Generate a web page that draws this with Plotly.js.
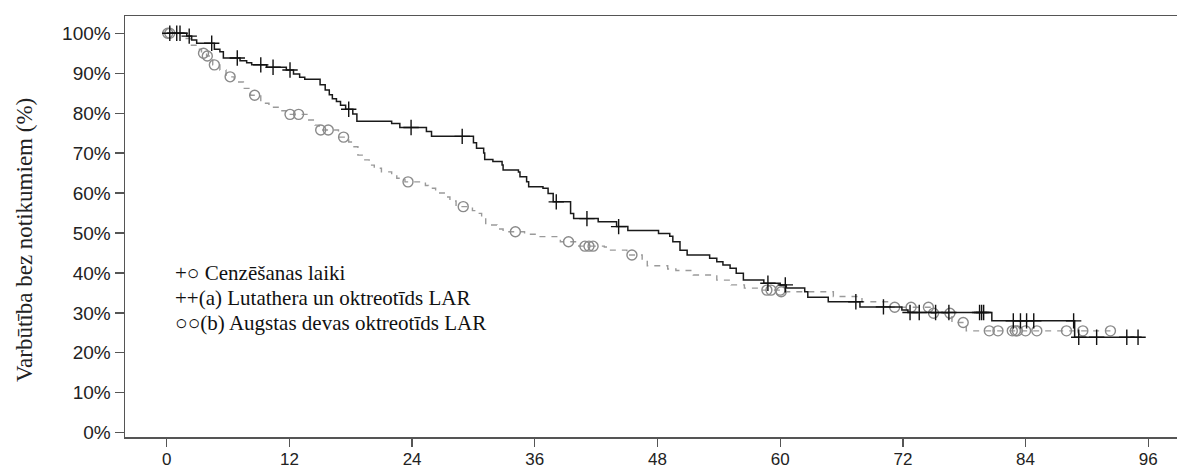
<!DOCTYPE html>
<html>
<head>
<meta charset="utf-8">
<script src="https://cdn.plot.ly/plotly-3.0.1.min.js"></script>
<style>html,body{margin:0;padding:0;background:#fff;}#chart{width:1177px;height:470px;}</style>
</head>
<body>
<div id="chart"></div>
<script>
// Lutathera + octreotide LAR: event step times (months) and survival after each step (%)
const lutTime = [0, 1.96, 2.44, 2.93, 4.66, 5.2, 5.54, 7.17, 7.82, 8.31, 9.78, 11.7, 12.4, 13.0, 13.5, 15.0, 15.5, 15.9, 16.2, 16.6, 17.0, 17.5, 18.2, 18.6, 22.0, 22.8, 25.4, 25.9, 30.0, 30.3, 31.0, 31.1, 31.9, 32.8, 32.9, 34.4, 34.55, 35.2, 35.4, 36.8, 37.3, 37.8, 39.5, 39.8, 42.2, 44.0, 45.1, 48.1, 49.2, 49.5, 50.2, 50.9, 53.1, 53.8, 54.4, 55.1, 55.7, 56.4, 58.4, 60.0, 60.6, 62.4, 62.7, 64.7, 67.8, 71.9, 72.5, 80.7, 88.8, 95.35];
const lutSurv = [100, 99.3, 98.3, 97.5, 96.0, 95.4, 93.8, 93.1, 92.6, 92.1, 91.5, 90.8, 89.8, 89.0, 88.5, 87.1, 85.8, 84.6, 83.6, 82.9, 82.0, 81.0, 79.8, 78.0, 77.4, 76.4, 75.4, 74.2, 72.6, 71.2, 70.0, 68.4, 67.9, 67.0, 65.8, 65.3, 64.1, 62.8, 61.6, 61.2, 59.9, 57.8, 54.9, 53.6, 52.8, 51.6, 50.6, 49.9, 49.2, 47.8, 45.7, 44.5, 43.7, 42.8, 42.0, 41.2, 39.9, 38.2, 37.4, 37.0, 36.2, 35.3, 33.9, 32.8, 31.5, 30.7, 30.1, 28.0, 23.9, 23.9];
const lutCensor = [0.3, 0.98, 1.3, 2.2, 4.4, 6.9, 9.2, 10.4, 12.06, 17.8, 23.9, 28.9, 38.1, 41.1, 44.2, 58.8, 60.5, 67.4, 70.1, 72.7, 73.6, 75.2, 76.5, 79.5, 79.7, 79.9, 82.8, 83.5, 84.1, 84.8, 88.7, 89.2, 90.95, 93.9, 95.0];

// High-dose octreotide LAR
const octTime = [0, 1.8, 2.3, 3.0, 3.4, 3.9, 4.5, 5.2, 5.8, 6.6, 7.5, 8.2, 9.2, 10.0, 11.2, 11.8, 13.8, 14.5, 14.9, 16.8, 17.8, 18.2, 18.7, 19.2, 19.8, 20.3, 21.0, 22.0, 22.5, 23.3, 25.3, 25.6, 26.3, 27.3, 27.7, 28.3, 29.9, 30.2, 30.8, 31.2, 32.3, 32.9, 35.0, 36.3, 38.5, 40.3, 42.8, 43.3, 45.0, 46.5, 47.0, 49.0, 49.8, 51.5, 53.8, 55.2, 56.5, 58.0, 60.05, 65.2, 68.0, 70.5, 74.8, 76.8, 78.2, 92.3];
const octSurv = [100, 98.7, 97.0, 96.0, 95.0, 94.3, 92.1, 90.8, 89.1, 87.8, 86.2, 84.5, 82.5, 81.5, 80.6, 79.7, 78.3, 77.0, 75.8, 74.0, 72.8, 71.6, 69.5, 68.3, 67.0, 66.2, 65.3, 64.5, 63.7, 62.8, 61.9, 61.2, 60.0, 59.0, 58.0, 56.6, 55.6, 54.9, 53.5, 52.0, 51.0, 50.3, 49.7, 49.1, 47.8, 46.7, 46.5, 45.7, 44.5, 43.2, 41.8, 41.0, 40.6, 39.5, 38.2, 37.0, 36.2, 35.7, 35.3, 34.1, 32.8, 31.4, 29.9, 27.6, 25.5, 25.5];
const octCensor = [0.1, 0.3, 3.6, 3.97, 4.66, 6.2, 8.6, 12.06, 12.9, 15.06, 15.8, 17.3, 23.6, 29.0, 34.1, 39.3, 40.9, 41.3, 41.7, 45.5, 58.7, 59.1, 60.0, 60.1, 71.2, 72.8, 74.5, 75.0, 76.6, 77.9, 80.45, 81.3, 82.7, 83.0, 83.2, 84.0, 85.1, 88.0, 89.6, 92.3];

const xTicks = [0, 12, 24, 36, 48, 60, 72, 84, 96];
const yTicks = [0, 10, 20, 30, 40, 50, 60, 70, 80, 90, 100];
const yTitle = 'Varbūtība bez notikumiem (%)';
const legendLines = ['+○ Cenzēšanas laiki', '++(a) Lutathera un oktreotīds LAR', '○○(b) Augstas devas oktreotīds LAR'];

function stepAt(times, surv, t) {
  let v = surv[0];
  for (let i = 0; i < times.length; i++) { if (times[i] <= t) v = surv[i]; else break; }
  return v;
}

const traces = [
  {x: octTime, y: octSurv, mode: 'lines', line: {shape: 'hv', color: '#9a9a9a', width: 1.4, dash: '6px,6px'}, hoverinfo: 'skip'},
  {x: octCensor, y: octCensor.map(t => stepAt(octTime, octSurv, t)), mode: 'markers',
   marker: {symbol: 'circle-open', size: 10, color: '#8a8a8a', line: {width: 1.4, color: '#8a8a8a'}}},
  {x: lutTime, y: lutSurv, mode: 'lines', line: {shape: 'hv', color: '#1a1a1a', width: 1.5}},
  {x: lutCensor, y: lutCensor.map(t => stepAt(lutTime, lutSurv, t)), mode: 'markers',
   marker: {symbol: 'cross-thin-open', size: 11, color: '#111', line: {width: 1.4, color: '#111'}}}
];

const serif = 'Liberation Serif, Times New Roman, serif';
const annotations = [
  {text: yTitle, xref: 'paper', yref: 'paper', x: (24 - 125) / 1052, y: (437 - 240) / 421, textangle: -90,
   showarrow: false, xanchor: 'center', yanchor: 'middle', font: {family: serif, size: 23, color: '#222'}}
];
legendLines.forEach((s, i) => {
  annotations.push({text: s, xref: 'paper', yref: 'paper', x: (173 - 125) / 1052, y: (437 - (273 + 25 * i)) / 421,
    showarrow: false, xanchor: 'left', yanchor: 'middle', font: {family: serif, size: 21, color: '#111'}});
});

const layout = {
  width: 1177, height: 470,
  margin: {l: 125, r: 0, t: 16, b: 33},
  paper_bgcolor: '#fff', plot_bgcolor: '#fff',
  showlegend: false,
  font: {family: 'Liberation Sans, Arial, sans-serif', size: 19, color: '#222'},
  xaxis: {range: [-4.08, 98.81], tickvals: xTicks, ticktext: xTicks.map(String), showgrid: false, zeroline: false,
    tickfont: {size: 17}, ticklabelstandoff: -2,
    showline: true, mirror: true, linecolor: '#555', linewidth: 1.5, ticks: 'outside', ticklen: 8, tickwidth: 1.3, tickcolor: '#555'},
  yaxis: {range: [-1.08, 104.33], tickvals: yTicks, ticktext: yTicks.map(v => v + '%'), showgrid: false, zeroline: false,
    showline: true, linecolor: '#555', linewidth: 1.5, ticks: 'outside', ticklen: 9, tickwidth: 1.3, tickcolor: '#555'},
  annotations: annotations
};

Plotly.newPlot('chart', traces, layout, {displayModeBar: false, staticPlot: true});
</script>
</body>
</html>
